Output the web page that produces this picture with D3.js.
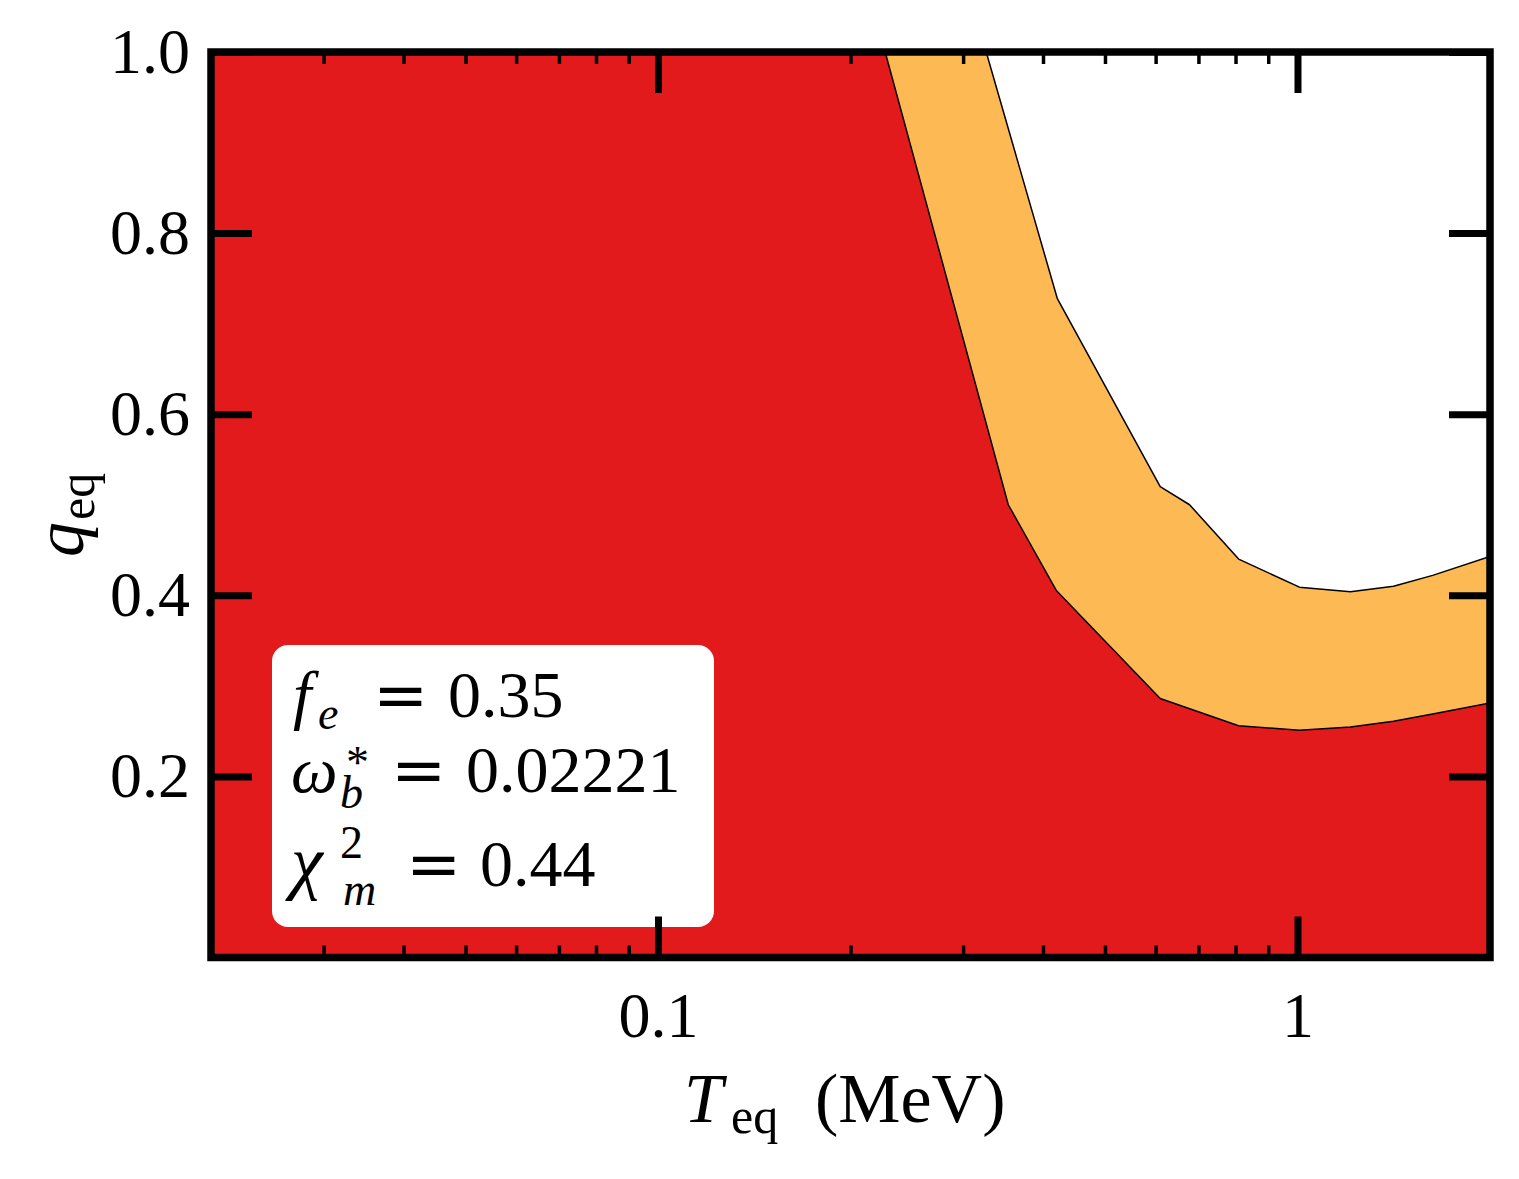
<!DOCTYPE html>
<html>
<head>
<meta charset="utf-8">
<script src="https://cdn.jsdelivr.net/npm/d3@7"></script>
<style>
  body { margin: 0; background: #fff; }
  svg text { font-family: "Liberation Serif", "DejaVu Serif", serif; fill: #000; }
  .eq { font-family: "DejaVu Serif", serif; }
</style>
</head>
<body>
<div id="chart"></div>
<script>
const width = 1519, height = 1179;
const margin = {left: 211, right: 29, top: 52, bottom: 221.5};

// data
const tRedEdge = [0.2266, 0.353, 0.420, 0.610, 0.809, 1.007, 1.21, 1.413, 1.627, 2.0];
const qRedEdge = [1.0, 0.500, 0.405, 0.286, 0.256, 0.251, 0.2545, 0.261, 0.269, 0.281];
const tOrangeEdge = [0.326, 0.421, 0.610, 0.678, 0.809, 1.007, 1.21, 1.413, 1.627, 2.0];
const qOrangeEdge = [1.0, 0.728, 0.520, 0.500, 0.440, 0.409, 0.404, 0.410, 0.422, 0.443];

const xMajor = [0.1, 1];
const xMajorLabels = ['0.1', '1'];
const xMinor = [0.03, 0.04, 0.05, 0.06, 0.07, 0.08, 0.09, 0.2, 0.3, 0.4, 0.5, 0.6, 0.7, 0.8, 0.9];
const yMajor = [0.2, 0.4, 0.6, 0.8, 1.0];
const yMajorLabels = ['0.2', '0.4', '0.6', '0.8', '1.0'];

const xDomain = [0.02, 2], yDomain = [0, 1];
const redColor = '#e31a1c', orangeColor = '#fdb954';

const svg = d3.select('#chart').append('svg')
    .attr('width', width).attr('height', height);

const x = d3.scaleLog().domain(xDomain).range([margin.left, width - margin.right]);
const y = d3.scaleLinear().domain(yDomain).range([height - margin.bottom, margin.top]);

svg.append('defs').append('clipPath').attr('id', 'plotclip')
  .append('rect')
    .attr('x', x.range()[0]).attr('y', y.range()[1])
    .attr('width', x.range()[1] - x.range()[0])
    .attr('height', y.range()[0] - y.range()[1]);

const redEdge = tRedEdge.map((t, i) => [t, qRedEdge[i]]);
const orangeEdge = tOrangeEdge.map((t, i) => [t, qOrangeEdge[i]]);

const line = d3.line().x(d => x(d[0])).y(d => y(d[1]));

// regions: everything under the outer edge is orange, red drawn on top
const region = edge => [[xDomain[0], yDomain[0]], [xDomain[0], yDomain[1]]]
    .concat(edge, [[xDomain[1], yDomain[0]]]);

const plot = svg.append('g').attr('clip-path', 'url(#plotclip)');

plot.append('path')
    .attr('d', line(region(orangeEdge)) + 'Z')
    .attr('fill', orangeColor);
plot.append('path')
    .attr('d', line(region(redEdge)) + 'Z')
    .attr('fill', redColor);

[redEdge, orangeEdge].forEach(edge => {
  plot.append('path')
    .attr('d', line(edge))
    .attr('fill', 'none')
    .attr('stroke', '#000')
    .attr('stroke-width', 1.5)
    .attr('stroke-linejoin', 'round');
});

// text box
const box = svg.append('g');
box.append('rect')
    .attr('x', 272).attr('y', 645)
    .attr('width', 442).attr('height', 282)
    .attr('rx', 16).attr('ry', 16)
    .attr('fill', '#fff');

const big = 66, small = 46;
const t1 = box.append('text').attr('y', 717).style('font-size', big + 'px');
t1.append('tspan').attr('x', 293).style('font-style', 'italic').text('f');
t1.append('tspan').attr('x', 318).attr('dy', 12).style('font-style', 'italic').style('font-size', small + 'px').text('e');
t1.append('tspan').attr('class', 'eq').attr('x', 373).attr('dy', -12).text('=');
t1.append('tspan').attr('x', 448).text('0.35');

const t2 = box.append('text').attr('y', 792).style('font-size', big + 'px');
t2.append('tspan').attr('x', 291).style('font-style', 'italic').text('ω');
t2.append('tspan').attr('x', 346).attr('dy', -14).style('font-size', small + 'px').text('*');
t2.append('tspan').attr('x', 340).attr('dy', 30).style('font-style', 'italic').style('font-size', small + 'px').text('b');
t2.append('tspan').attr('class', 'eq').attr('x', 391).attr('dy', -16).text('=');
t2.append('tspan').attr('x', 466).text('0.02221');

const t3 = box.append('text').attr('y', 886).style('font-size', big + 'px');
t3.append('tspan').attr('x', 291).style('font-style', 'italic').style('font-size', '72px').text('χ');
t3.append('tspan').attr('x', 340).attr('dy', -28).style('font-size', small + 'px').text('2');
t3.append('tspan').attr('x', 343).attr('dy', 47).style('font-style', 'italic').style('font-size', small + 'px').text('m');
t3.append('tspan').attr('class', 'eq').attr('x', 406).attr('dy', -19).text('=');
t3.append('tspan').attr('x', 480).text('0.44');

// axes, ticks pointing inward
const majorLen = 41, minorLen = 12, tickFont = 64;

function styleAxis(g, w) {
  g.select('.domain').remove();
  g.selectAll('.tick line').attr('stroke', '#000').attr('stroke-width', w);
  g.selectAll('.tick text').style('font-size', tickFont + 'px')
    .style('font-family', '"Liberation Serif", serif').attr('fill', '#000');
}

const yb = y.range()[0], yt = y.range()[1], xl = x.range()[0], xr = x.range()[1];

svg.append('g').attr('transform', `translate(0,${yb})`)
  .call(d3.axisBottom(x).tickValues(xMajor).tickSize(-majorLen).tickPadding(34)
        .tickFormat((d, i) => xMajorLabels[i]))
  .call(g => styleAxis(g, 7));
svg.append('g').attr('transform', `translate(0,${yb})`)
  .call(d3.axisBottom(x).tickValues(xMinor).tickSize(-minorLen).tickFormat(''))
  .call(g => styleAxis(g, 3.5));
svg.append('g').attr('transform', `translate(0,${yt})`)
  .call(d3.axisTop(x).tickValues(xMajor).tickSize(-majorLen).tickFormat(''))
  .call(g => styleAxis(g, 7));
svg.append('g').attr('transform', `translate(0,${yt})`)
  .call(d3.axisTop(x).tickValues(xMinor).tickSize(-minorLen).tickFormat(''))
  .call(g => styleAxis(g, 3.5));
svg.append('g').attr('transform', `translate(${xl},0)`)
  .call(d3.axisLeft(y).tickValues(yMajor).tickSize(-majorLen).tickPadding(21)
        .tickFormat((d, i) => yMajorLabels[i]))
  .call(g => styleAxis(g, 7));
svg.append('g').attr('transform', `translate(${xr},0)`)
  .call(d3.axisRight(y).tickValues(yMajor).tickSize(-majorLen).tickFormat(''))
  .call(g => styleAxis(g, 7));

// frame
svg.append('rect')
    .attr('x', xl).attr('y', yt)
    .attr('width', xr - xl).attr('height', yb - yt)
    .attr('fill', 'none').attr('stroke', '#000').attr('stroke-width', 7.5);

// axis titles
const xt = svg.append('text').attr('y', 1122).style('font-size', '70px');
xt.append('tspan').attr('x', 684).style('font-style', 'italic').text('T');
xt.append('tspan').attr('x', 731).attr('dy', 11).style('font-size', '50px').text('eq');
xt.append('tspan').attr('x', 815).attr('dy', -11).text('(MeV)');

const yl = svg.append('text')
    .attr('transform', 'translate(83,557) rotate(-90)')
    .style('font-size', '70px');
yl.append('tspan').style('font-style', 'italic').text('q');
yl.append('tspan').attr('dx', 2).attr('dy', 11).style('font-size', '50px').text('eq');
</script>
</body>
</html>
